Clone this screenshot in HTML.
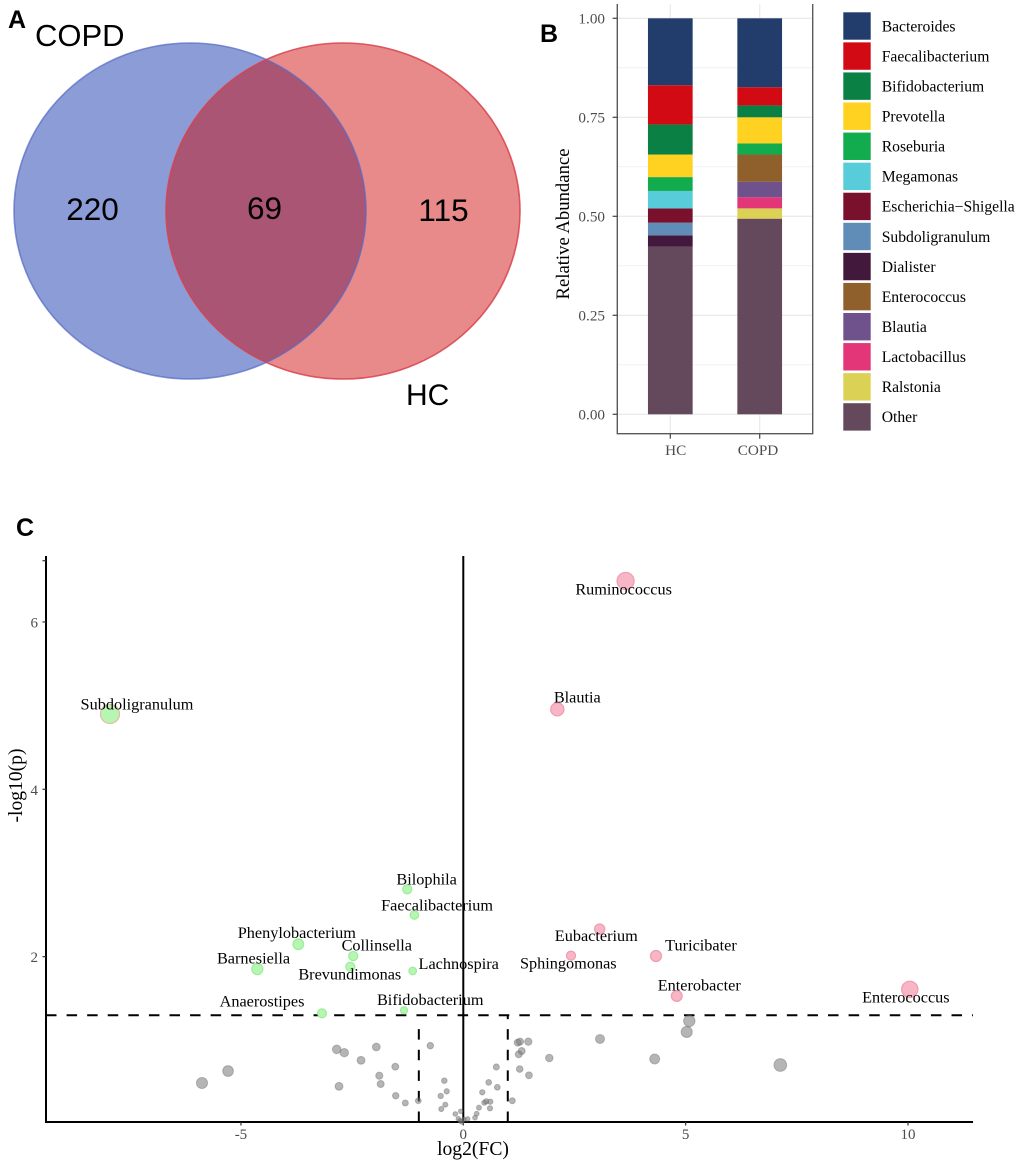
<!DOCTYPE html>
<html>
<head>
<meta charset="utf-8">
<title>COPD vs HC microbiome figure</title>
<style>
html,body{margin:0;padding:0;background:#fff;}
svg{display:block;}
text{font-family:"Liberation Serif","DejaVu Serif",serif;}
.sans{font-family:"Liberation Sans","DejaVu Sans",sans-serif;}
</style>
</head>
<body>
<svg id="fig" xmlns="http://www.w3.org/2000/svg" width="1020" height="1165" viewBox="0 0 1020 1165">
  <rect x="0" y="0" width="1020" height="1165" fill="#ffffff"/>
  <g id="panelA">
    <ellipse cx="190" cy="211" rx="176" ry="168" fill="#8c9cd6"/>
    <ellipse cx="343" cy="211" rx="177" ry="168" fill="rgba(206,6,6,0.47)"/>
    <ellipse cx="190" cy="211" rx="176" ry="168" fill="none" stroke="#5268c4" stroke-opacity="0.7" stroke-width="1.6"/>
    <ellipse cx="343" cy="211" rx="177" ry="168" fill="none" stroke="#d8414c" stroke-opacity="0.85" stroke-width="1.6"/>
    <text class="sans" x="35" y="46" font-size="31" fill="#000">COPD</text>
    <text class="sans" x="406" y="405" font-size="30" fill="#000">HC</text>
  </g>
  <g id="panelB"></g>
  <g id="panelC"></g>
  <text class="sans" x="8" y="28" font-size="25" font-weight="bold" fill="#000">A</text>
  <text class="sans" x="540" y="42" font-size="25" font-weight="bold" fill="#000">B</text>
  <text class="sans" x="16" y="536" font-size="25" font-weight="bold" fill="#000">C</text>
</svg>
<script>
// ---- Venn data ----
var vennCounts = [220, 69, 115];

// ---- Stacked bar data ----
var barCategories = ['HC', 'COPD'];
var genera = ['Bacteroides','Faecalibacterium','Bifidobacterium','Prevotella','Roseburia','Megamonas','Escherichia\u2212Shigella','Subdoligranulum','Dialister','Enterococcus','Blautia','Lactobacillus','Ralstonia','Other'];
var hcValues = [0.169,0.099,0.076,0.057,0.035,0.044,0.036,0.032,0.029,0,0,0,0,0.423];
var copdValues = [0.174,0.046,0.030,0.066,0.028,0,0,0,0,0.069,0.039,0.028,0.026,0.494];
var barTicks = [0, 0.25, 0.5, 0.75, 1];
var barTickLabels = ['0.00','0.25','0.50','0.75','1.00'];

// ---- Volcano data ----
var upNames = ['Ruminococcus','Blautia','Eubacterium','Sphingomonas','Turicibater','Enterobacter','Enterococcus'];
var upFC = [3.65,2.114,3.067,2.422,4.333,4.80,10.04];
var upP = [6.49,4.956,2.33,2.012,2.008,1.53,1.61];
var downNames = ['Subdoligranulum','Bilophila','Faecalibacterium','Phenylobacterium','Collinsella','Brevundimonas','Barnesiella','Lachnospira','Anaerostipes','Bifidobacterium'];
var downFC = [-7.945,-1.26,-1.10,-3.71,-2.474,-2.541,-4.632,-1.138,-3.177,-1.333];
var downP = [4.90,2.805,2.498,2.148,2.008,1.88,1.852,1.829,1.323,1.359];
var nsFC = [-5.876,-5.29,-2.847,-2.676,-2.30,-1.956,-2.795,-1.889,-1.857,-1.529,-1.52,-1.304,-1.012,-0.742,-0.427,-0.373,-0.508,-0.405,-0.495,-0.058,-0.18,-0.112,-0.074,-0.036,0.099,0.016,0.263,0.301,0.353,0.427,0.571,0.742,0.765,0.472,0.517,0.607,0.6,1.102,1.223,1.275,1.462,1.313,1.246,1.268,1.477,1.934,3.074,4.304,5.024,5.082,7.129];
var nsP = [0.49,0.633,0.892,0.852,0.761,0.92,0.45,0.577,0.478,0.685,0.338,0.251,0.278,0.936,0.518,0.39,0.335,0.231,0.179,0.152,0.12,0.063,0.039,0.024,0.06,0.056,0.075,0.123,0.195,0.379,0.498,0.681,0.439,0.255,0.271,0.267,0.188,0.278,0.972,0.984,0.984,0.872,0.833,0.657,0.582,0.789,1.016,0.777,1.10,1.231,0.705];
var xTicks = [-5, 0, 5, 10];
var xTickLabels = ['-5','0','5','10'];
var yTicks = [2, 4, 6];
var yTickLabels = ['2','4','6'];
var pThreshold = 1.3;
var fcThresholds = [-1, 1];

var NS = 'http://www.w3.org/2000/svg';
function mk(parent, tag, attrs, txt) {
  var el = document.createElementNS(NS, tag);
  for (var k in attrs) { el.setAttribute(k, attrs[k]); }
  if (txt !== undefined) { el.textContent = txt; }
  parent.appendChild(el);
  return el;
}
function slug(s) { return s.toLowerCase().replace(/[^a-z0-9]+/g, '-'); }

// ---- Panel A counts ----
(function () {
  var g = document.getElementById('panelA');
  var xs = [92.5, 264.5, 443.5];
  var ys = [220, 219, 221];
  var names = ['copd-only', 'shared', 'hc-only'];
  vennCounts.forEach(function (v, i) {
    var t = mk(g, 'text', {'class':'sans', x: xs[i], y: ys[i], 'font-size': 31.5, 'text-anchor':'middle', fill:'#000'}, String(v));
    
    
  });
})();

// ---- Panel B ----
(function () {
  var g = document.getElementById('panelB');
  var colors = ['#223c6b','#d20a13','#0a8045','#ffd120','#12ab4d','#58cdd9','#7a112c','#5f8db8','#42183d','#8f602c','#6f528c','#e33678','#dbd155','#64485c'];
  var left = 617.3, right = 812.7, top = 4, bottom = 433.7;
  function yS(v) { return 414.3 - v * 396; }
  var centers = [670.3, 759.7];
  var barW = 44.7;
  var labelShift = [5.4, -1.7];

  // gridlines
  barTicks.forEach(function (v, i) {
    var l = mk(g, 'line', {x1:left, x2:right, y1:yS(v), y2:yS(v), stroke:'#ebebeb', 'stroke-width':1.3});
    
    
    if (i < barTicks.length - 1) {
      var mv = (v + barTicks[i + 1]) / 2;
      var m = mk(g, 'line', {x1:left, x2:right, y1:yS(mv), y2:yS(mv), stroke:'#f1f1f1', 'stroke-width':1});
      
      
    }
  });
  centers.forEach(function (c) {
    var l = mk(g, 'line', {x1:c, x2:c, y1:top, y2:bottom, stroke:'#ebebeb', 'stroke-width':1.3});
    
    
  });

  // stacked bars
  [hcValues, copdValues].forEach(function (vals, b) {
    var base = 0;
    for (var i = genera.length - 1; i >= 0; i--) {
      if (vals[i] > 0) {
        var y1 = yS(base), y2 = yS(base + vals[i]);
        var r = mk(g, 'rect', {x: centers[b] - barW / 2, y: y2, width: barW, height: y1 - y2, fill: colors[i]});
        
        
      }
      base += vals[i];
    }
  });

  // axis frame
  var frame = mk(g, 'path', {d:'M'+left+' '+top+'V'+bottom+'H'+right+'V'+top, fill:'none', stroke:'#5a5a5a', 'stroke-width':1.4});
  
  

  // y ticks
  barTicks.forEach(function (v, i) {
    var t = mk(g, 'line', {x1:612.6, x2:left, y1:yS(v), y2:yS(v), stroke:'#444', 'stroke-width':1.2});
    
    
    var lb = mk(g, 'text', {x:605, y:yS(v) + 5, 'font-size':15.2, 'text-anchor':'end', fill:'#4d4d4d'}, barTickLabels[i]);
    
    
  });
  // x ticks
  barCategories.forEach(function (c, i) {
    var t = mk(g, 'line', {x1:centers[i], x2:centers[i], y1:bottom, y2:bottom + 5, stroke:'#444', 'stroke-width':1.2});
    
    
    var lb = mk(g, 'text', {x:centers[i] + labelShift[i], y:455, 'font-size':15.2, 'text-anchor':'middle', fill:'#4d4d4d'}, c);
    
    
  });
  var yt = mk(g, 'text', {transform:'translate(569,224) rotate(-90)', 'font-size':18.7, 'text-anchor':'middle', fill:'#000'}, 'Relative Abundance');
  
  

  // legend
  genera.forEach(function (name, i) {
    var top0 = 12.3 + i * 30.07;
    var s = mk(g, 'rect', {x:843.3, y:top0, width:27.4, height:27.4, fill:colors[i]});
    
    
    var t = mk(g, 'text', {x:881.7, y:top0 + 19, 'font-size':15.65, fill:'#000'}, name);
    
    
  });
})();

// ---- Panel C ----
(function () {
  var g = document.getElementById('panelC');
  var axisL = 46, axisR = 973, axisB = 1122, axisT = 556;
  function xS(v) { return 463.3 + v * 44.47; }
  function yS(v) { return 1124 - v * 83.67; }
  function rS(fc, p) { return 1.8 + 0.51 * Math.abs(fc) + 0.75 * p; }

  // threshold and reference lines
  var hl = mk(g, 'line', {x1:axisL, x2:axisR, y1:yS(pThreshold), y2:yS(pThreshold), stroke:'#000', 'stroke-width':2, 'stroke-dasharray':'10.5 10.08'});
  
  
  fcThresholds.forEach(function (v) {
    var topEnd = v < 0 ? yS(pThreshold) + 6 : yS(pThreshold);
    var vl = mk(g, 'line', {x1:xS(v), x2:xS(v), y1:axisB, y2:topEnd, stroke:'#000', 'stroke-width':2, 'stroke-dasharray':'10.5 10.08'});
    
    
  });
  var zero = mk(g, 'line', {x1:xS(0), x2:xS(0), y1:axisT, y2:axisB, stroke:'#000', 'stroke-width':2});
  
  

  // axes
  var ya = mk(g, 'line', {x1:axisL, x2:axisL, y1:axisT, y2:axisB + 1, stroke:'#000', 'stroke-width':2});
  
  
  var xa = mk(g, 'line', {x1:axisL - 1, x2:axisR, y1:axisB, y2:axisB, stroke:'#000', 'stroke-width':2});
  
  
  var topTick = mk(g, 'line', {x1:axisL - 3.5, x2:axisL, y1:560.7, y2:560.7, stroke:'#333', 'stroke-width':1.2});
  
  

  xTicks.forEach(function (v, i) {
    var t = mk(g, 'line', {x1:xS(v), x2:xS(v), y1:axisB, y2:axisB + 3.5, stroke:'#333', 'stroke-width':1.2});
    
    
    var lb = mk(g, 'text', {x:xS(v), y:1139, 'font-size':15, 'text-anchor':'middle', fill:'#4d4d4d'}, xTickLabels[i]);
    
    
  });
  yTicks.forEach(function (v, i) {
    var t = mk(g, 'line', {x1:axisL - 3.5, x2:axisL, y1:yS(v), y2:yS(v), stroke:'#333', 'stroke-width':1.2});
    
    
    var lb = mk(g, 'text', {x:38, y:yS(v) + 5.5, 'font-size':15, 'text-anchor':'end', fill:'#4d4d4d'}, yTickLabels[i]);
    
    
  });
  var xt = mk(g, 'text', {x:473, y:1155, 'font-size':19.6, 'text-anchor':'middle', fill:'#000'}, 'log2(FC)');
  
  
  var yt = mk(g, 'text', {transform:'translate(22,785.5) rotate(-90)', 'font-size':19.6, 'text-anchor':'middle', fill:'#000'}, '-log10(p)');
  
  

  // points
  nsFC.forEach(function (fc, i) {
    var c = mk(g, 'circle', {cx:xS(fc), cy:yS(nsP[i]), r:rS(fc, nsP[i]) + 0.4, fill:'rgba(120,120,120,0.55)', stroke:'rgba(90,90,90,0.35)', 'stroke-width':1});
    
    
  });
  downFC.forEach(function (fc, i) {
    var c = mk(g, 'circle', {cx:xS(fc), cy:yS(downP[i]), r:rS(fc, downP[i]), fill:'#b6f6b2', stroke:(i === 0 ? '#e6b9a8' : '#9aee98'), 'stroke-width':1.2});
    
    
  });
  upFC.forEach(function (fc, i) {
    var c = mk(g, 'circle', {cx:xS(fc), cy:yS(upP[i]), r:rS(fc, upP[i]), fill:'#f6b6c6', stroke:'#f29bb0', 'stroke-width':1.2});
    
    
  });

  // labels, placed relative to their points (repel-style layout nudges)
  var downNudge = [[27,-4.7],[19.4,-5],[22.7,-4.7],[-1.5,-6.3],[23.5,-5.3],[-0.5,12.6],[-3.8,-5.7],[46,-2],[-60,-7],[26.2,-5.3]];
  var upNudge = [[-2,13.7],[20,-6.6],[-3.4,12],[-2.7,12.6],[45,-5.3],[22.5,-5.3],[-3.9,13]];
  downNames.forEach(function (n, i) {
    var t = mk(g, 'text', {x:xS(downFC[i]) + downNudge[i][0], y:yS(downP[i]) + downNudge[i][1], 'font-size':16.25, 'text-anchor':'middle', fill:'#000'}, n);
    
    
  });
  upNames.forEach(function (n, i) {
    var t = mk(g, 'text', {x:xS(upFC[i]) + upNudge[i][0], y:yS(upP[i]) + upNudge[i][1], 'font-size':16.25, 'text-anchor':'middle', fill:'#000'}, n);
    
    
  });
})();
</script>
</body>
</html>
